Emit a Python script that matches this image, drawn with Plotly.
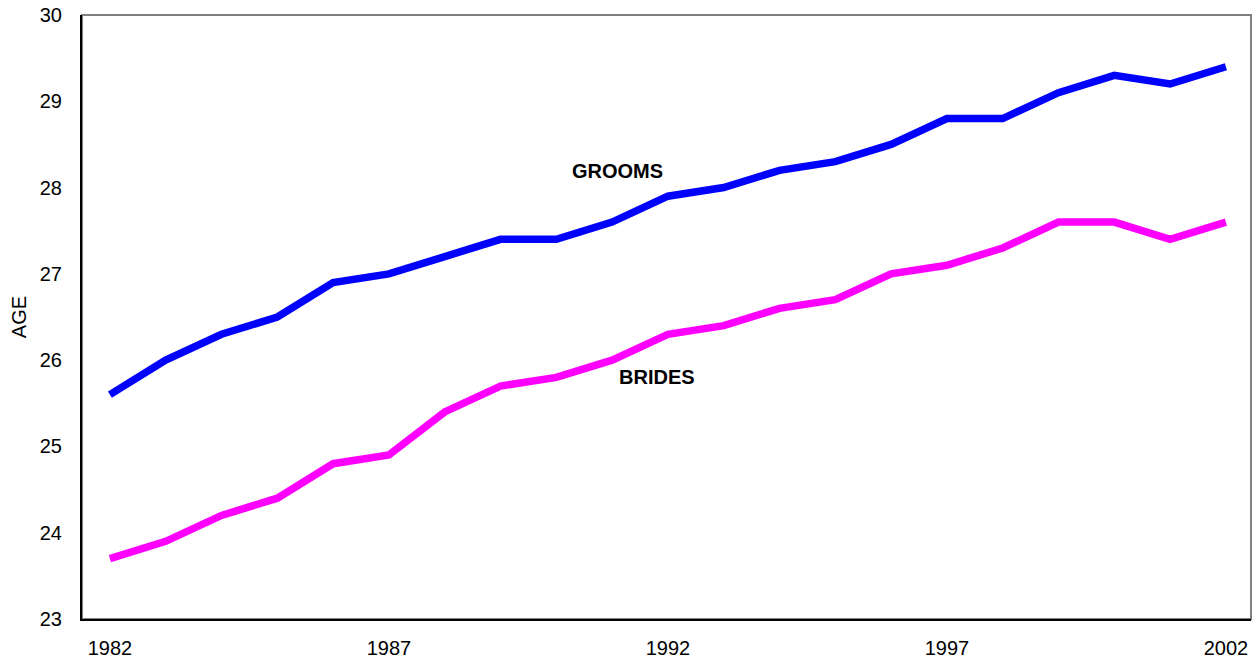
import plotly.graph_objects as go

years = list(range(1982, 2003))
grooms = [25.6, 26.0, 26.3, 26.5, 26.9, 27.0, 27.2, 27.4, 27.4, 27.6, 27.9,
          28.0, 28.2, 28.3, 28.5, 28.8, 28.8, 29.1, 29.3, 29.2, 29.4]
brides = [23.7, 23.9, 24.2, 24.4, 24.8, 24.9, 25.4, 25.7, 25.8, 26.0, 26.3,
          26.4, 26.6, 26.7, 27.0, 27.1, 27.3, 27.6, 27.6, 27.4, 27.6]
x_ticks = [1982, 1987, 1992, 1997, 2002]
y_ticks = [23, 24, 25, 26, 27, 28, 29, 30]

font = "Liberation Sans, Arial, sans-serif"

fig = go.Figure()
fig.add_trace(go.Scatter(x=years, y=grooms, mode="lines", name="GROOMS",
                         line=dict(color="#0000FF", width=7.5)))
fig.add_trace(go.Scatter(x=years, y=brides, mode="lines", name="BRIDES",
                         line=dict(color="#FF00FF", width=7.5)))

fig.add_annotation(x=1991.1, y=28.19, text="<b>GROOMS</b>", showarrow=False,
                   font=dict(size=20, color="black", family=font))
fig.add_annotation(x=1991.8, y=25.8, text="<b>BRIDES</b>", showarrow=False,
                   font=dict(size=20, color="black", family=font))

fig.add_shape(type="rect", xref="paper", yref="paper", x0=0, y0=0, x1=1, y1=1,
              line=dict(color="#808080", width=2), layer="below")

fig.update_layout(
    width=1260, height=662,
    margin=dict(l=82, r=9, t=15, b=43),
    paper_bgcolor="white", plot_bgcolor="white",
    showlegend=False,
    font=dict(family=font, size=20, color="black"),
    xaxis=dict(range=[1981.5, 2002.45], tickvals=x_ticks, showgrid=False,
               zeroline=False, showline=True, linecolor="black", linewidth=2,
               ticks="", ticklabelstandoff=10, automargin=False),
    yaxis=dict(range=[23, 30], tickvals=y_ticks, showgrid=False,
               zeroline=False, showline=True, linecolor="black", linewidth=2,
               ticks="", ticklabelstandoff=14, automargin=False,
               title=dict(text="AGE", font=dict(size=20), standoff=8)),
)

fig.write_html("out.html", config={"displayModeBar": False},
               post_script="document.body.style.margin='0';document.body.style.overflow='hidden';")
